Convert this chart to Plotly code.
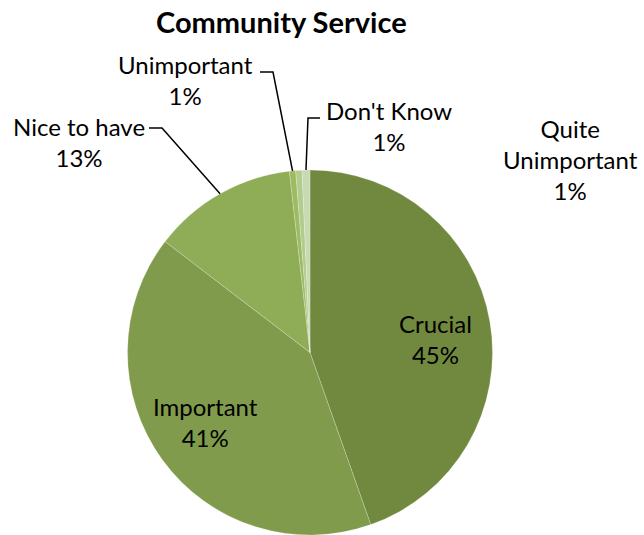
import math
import plotly.graph_objects as go

# Survey answers for "Community Service" (share of respondents, %)
categories = ["Crucial", "Important", "Nice to have", "Unimportant", "Quite Unimportant", "Don't Know"]
values = [44.6, 40.8, 12.8, 0.55, 0.55, 0.7]
colors = ["#71893f", "#809b4c", "#8fac57", "#9dbb60", "#b2cb8e", "#c8dab2"]

W, H = 644, 535
# pie placement in pixels: centre and radius
CX, CY, R = 310.0, 352.5, 182.5


def px(x):
    return x / W


def py(y):
    return 1 - y / H


total = sum(values)
pcts = [v / total * 100 for v in values]

fig = go.Figure(
    go.Pie(
        labels=categories,
        values=values,
        sort=False,
        direction="clockwise",
        rotation=0,
        textinfo="none",
        hoverinfo="label+percent",
        marker=dict(colors=colors, line=dict(color="rgba(255,255,255,0.22)", width=1)),
        domain=dict(x=[px(CX - R), px(CX + R)], y=[py(CY + R), py(CY - R)]),
        showlegend=False,
    )
)

# edge point of each slice at its middle angle (clockwise from 12 o'clock)
edge = []
cum = 0.0
for p in pcts:
    mid = (cum + p / 2) / 100 * 2 * math.pi
    edge.append((CX + R * math.sin(mid), CY - R * math.cos(mid)))
    cum += p

font = dict(family="Lato, 'Open Sans', sans-serif", size=24, color="#000000")

# label layout: centre of the text block, and leader elbow (or None)
label_layout = {
    "Crucial": dict(pos=(436, 339), leader=None),
    "Important": dict(pos=(205, 422), leader=None),
    "Nice to have": dict(pos=(79, 142), leader=[(149, 128), (162, 128)]),
    "Unimportant": dict(pos=(185, 80), leader=[(260, 72), (273, 72)]),
    "Quite Unimportant": dict(pos=(570, 159), leader=None),
    "Don't Know": dict(pos=(389, 126), leader=[(320, 118), (308, 118)]),
}

annotations = []
shapes = []
for i, cat in enumerate(categories):
    lay = label_layout[cat]
    name = "Quite<br>Unimportant" if cat == "Quite Unimportant" else cat
    annotations.append(
        dict(
            x=px(lay["pos"][0]), y=py(lay["pos"][1]), xref="paper", yref="paper",
            text=f"{name}<br>{pcts[i]:.0f}%", showarrow=False, font=font,
            align="center", xanchor="center", yanchor="middle",
        )
    )
    if lay["leader"]:
        pts = lay["leader"] + [edge[i]]
        path = "M " + " L ".join(f"{px(x)},{py(y)}" for x, y in pts)
        shapes.append(
            dict(type="path", path=path, xref="paper", yref="paper",
                 line=dict(color="#000000", width=1.5))
        )

annotations.append(
    dict(
        x=px(281), y=py(21), xref="paper", yref="paper",
        text="<b>Community Service</b>", showarrow=False,
        font=dict(family="Lato, 'Open Sans', sans-serif", size=29, color="#000000"),
        xanchor="center", yanchor="middle",
    )
)

fig.update_layout(
    width=W, height=H,
    margin=dict(l=0, r=0, t=0, b=0),
    paper_bgcolor="white", plot_bgcolor="white",
    annotations=annotations, shapes=shapes,
)

fig.write_html("out.html")
